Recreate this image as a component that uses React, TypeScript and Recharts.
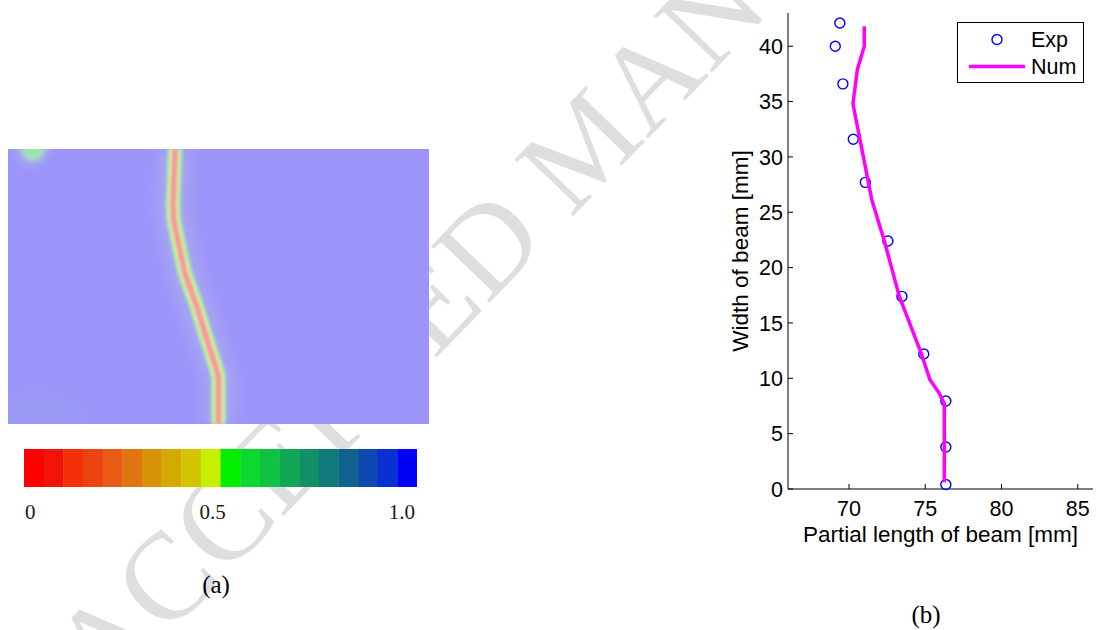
import React from 'react';
import {
  ScatterChart,
  Scatter,
  XAxis,
  YAxis,
  Legend,
  BarChart,
  Bar,
  Cell,
  ReferenceArea,
} from 'recharts';

// ---------- Panel (b): crack path, experiment vs. simulation [mm] ----------
const expLength = [76.35, 76.35, 76.35, 74.9, 73.47, 72.55, 71.07, 70.28, 69.6, 69.1, 69.4];
const expWidth = [0.4, 3.8, 7.95, 12.2, 17.4, 22.4, 27.7, 31.6, 36.6, 40.0, 42.1];
const numLength = [76.25, 76.25, 75.9, 75.3, 74.75, 73.3, 72.3, 71.5, 70.26, 70.55, 71.0, 71.0];
const numWidth = [0.6, 7.7, 8.7, 9.9, 12.2, 17.4, 22.5, 26.1, 34.8, 37.9, 40.0, 41.8];
const lengthTicks = [70, 75, 80, 85];
const widthTicks = [0, 5, 10, 15, 20, 25, 30, 35, 40];

// ---------- Panel (a): phase-field damage contour ----------
// crack trace, in percent of the plotted width / height
const crackX = [39.7, 39.4, 39.2, 39.4, 40.6, 42.0, 44.9, 47.3, 49.6, 50.0, 50.0];
const crackY = [100, 88.0, 80.0, 74.0, 65.0, 54.9, 42.5, 30.5, 19.6, 16.7, 0];
// small damaged spots near the supports
const spotX = [5.9, 6.5];
const spotY = [100, -8];
// colour scale: upper bound of each band and its colour
const bandTop = [
  0.05, 0.1, 0.15, 0.2, 0.25, 0.3, 0.35, 0.4, 0.45, 0.5,
  0.55, 0.6, 0.65, 0.7, 0.75, 0.8, 0.85, 0.9, 0.95, 1.0,
];
const bandColors = [
  '#ff0000', '#f21408', '#f4300a', '#ec4410', '#e85a16', '#e07410', '#d89208', '#d4aa02', '#d2c400', '#c6f000',
  '#00f000', '#0cd832', '#10c242', '#10a854', '#109064', '#107a7a', '#10628e', '#0c48ae', '#0830d2', '#0000fa',
];
// labelled band edges of the colour scale
const scaleLabels = ['0', '0.5', '1.0'];
const scaleLabelBands = [0.05, 0.5, 1.0];

const expData = expLength.map((x, i) => ({ x, y: expWidth[i] }));
const numData = numLength.map((x, i) => ({ x, y: numWidth[i] }));
const crackData = crackX.map((x, i) => ({ x, y: crackY[i] }));
const spotData = spotX.map((x, i) => ({ x, y: spotY[i], kind: i }));
const bandData = bandTop.map((band, i) => ({ band, color: bandColors[i] }));

const SANS = '"Liberation Sans", Arial, Helvetica, sans-serif';
const SERIF = '"Liberation Serif", "Times New Roman", Times, serif';

// layered strokes that give the crack its soft red/yellow/green band
const crackLayers = [
  { stroke: '#a9abf2', width: 34, filter: 'url(#crackHalo)', opacity: 0.7 },
  { stroke: '#a4eca8', width: 15, filter: 'url(#crackSoft)', opacity: 1 },
  { stroke: '#e4e89c', width: 9.5, filter: 'url(#crackSoft)', opacity: 1 },
  { stroke: '#f39c9c', width: 5.5, filter: 'url(#crackCore)', opacity: 1 },
];

const noMark = () => <g />;

const SpotShape = (p: any) => (
  <circle
    cx={p.cx}
    cy={p.cy}
    r={p.payload.kind === 0 ? 26 : 70}
    fill={p.payload.kind === 0 ? 'url(#spotGreen)' : 'url(#spotBlue)'}
  />
);

const ExpMarker = (p: any) => (
  <circle cx={p.cx} cy={p.cy} r={5} fill="none" stroke="#0000ff" strokeWidth={1.4} />
);

// colour-scale labels sit at band edges: first band's left edge, others' right edge
const ScaleTick = (p: any) => {
  const band = p.payload.value;
  const k = scaleLabelBands.indexOf(band);
  if (k < 0) return <g />;
  const half = 393 / bandTop.length / 2;
  const edge = k === 0 ? p.x - half : p.x + half;
  const anchor = k === 0 ? 'start' : k === 2 ? 'end' : 'middle';
  const dx = k === 0 ? 1 : k === 2 ? -2 : -8;
  return (
    <text
      x={edge + dx}
      y={p.y + 24}
      textAnchor={anchor}
      fontFamily={SERIF}
      fontSize={21}
      fill="#1a1a1a"
    >
      {scaleLabels[k]}
    </text>
  );
};

const renderLegend = (props: any) => {
  const items = props.payload || [];
  return (
    <svg width={127} height={61} style={{ display: 'block' }}>
      <rect x={0.5} y={0.5} width={126} height={60} fill="#fff" stroke="#000" strokeWidth={1} />
      {items.map((it: any, i: number) => {
        const cy = 17.5 + i * 27;
        return (
          <g key={it.value}>
            {it.type === 'line' ? (
              <line x1={12} x2={68} y1={cy} y2={cy} stroke={it.color} strokeWidth={3.5} />
            ) : (
              <circle cx={40} cy={cy} r={5} fill="none" stroke={it.color} strokeWidth={1.4} />
            )}
            <text x={74} y={cy + 7.8} fontSize={21.5} fontFamily={SANS} fill="#000">
              {it.value}
            </text>
          </g>
        );
      })}
    </svg>
  );
};

const tickStyle = { fontSize: 21.5, fill: '#000', fontFamily: SANS };

export default function App() {
  return (
    <div
      style={{
        position: 'absolute',
        left: 0,
        top: 0,
        width: 1096,
        height: 630,
        background: '#fff',
        fontFamily: SANS,
        overflow: 'hidden',
      }}
    >
      {/* shared filters and gradients, plus watermark and captions */}
      <svg width={1096} height={630} style={{ position: 'absolute', left: 0, top: 0 }}>
        <defs>
          <filter id="crackHalo" filterUnits="userSpaceOnUse" x={-200} y={-200} width={900} height={700}>
            <feGaussianBlur stdDeviation={7} />
          </filter>
          <filter id="crackSoft" filterUnits="userSpaceOnUse" x={-200} y={-200} width={900} height={700}>
            <feGaussianBlur stdDeviation={1.6} />
          </filter>
          <filter id="crackCore" filterUnits="userSpaceOnUse" x={-200} y={-200} width={900} height={700}>
            <feGaussianBlur stdDeviation={0.8} />
          </filter>
          <radialGradient id="spotGreen">
            <stop offset="0%" stopColor="#8ef08e" stopOpacity={1} />
            <stop offset="35%" stopColor="#a6e6b8" stopOpacity={0.85} />
            <stop offset="60%" stopColor="#a4aef0" stopOpacity={0.6} />
            <stop offset="100%" stopColor="#9c94f9" stopOpacity={0} />
          </radialGradient>
          <radialGradient id="spotBlue">
            <stop offset="0%" stopColor="#98a4ec" stopOpacity={0.35} />
            <stop offset="80%" stopColor="#98a4ec" stopOpacity={0.25} />
            <stop offset="100%" stopColor="#9c94f9" stopOpacity={0} />
          </radialGradient>
        </defs>
        <text
          x={104}
          y={702}
          transform="rotate(-46 104 702)"
          fontFamily={SERIF}
          fontSize={124}
          fill="#dedede"
        >
          ACCEPTED MANUSCRIPT
        </text>
        <text x={216} y={593} textAnchor="middle" fontFamily={SERIF} fontSize={25} fill="#000">
          (a)
        </text>
        <text x={926} y={623} textAnchor="middle" fontFamily={SERIF} fontSize={25} fill="#000">
          (b)
        </text>
      </svg>

      {/* Panel (a): damage field with crack */}
      <ScatterChart
        width={421}
        height={275}
        margin={{ top: 0, right: 0, bottom: 0, left: 0 }}
        style={{ position: 'absolute', left: 8, top: 149 }}
      >
        <XAxis type="number" dataKey="x" domain={[0, 100]} hide allowDataOverflow />
        <YAxis type="number" dataKey="y" domain={[0, 100]} hide allowDataOverflow />
        <ReferenceArea x1={0} x2={100} y1={0} y2={100} fill="#9c94f9" fillOpacity={1} stroke="none" />
        <Scatter data={spotData} shape={SpotShape} isAnimationActive={false} />
        {crackLayers.map((l, i) => (
          <Scatter
            key={i}
            data={crackData}
            shape={noMark}
            line={{
              stroke: l.stroke,
              strokeWidth: l.width,
              strokeOpacity: l.opacity,
              strokeLinejoin: 'round',
              filter: l.filter,
            }}
            lineType="joint"
            isAnimationActive={false}
          />
        ))}
      </ScatterChart>

      {/* Panel (a): colour scale */}
      <BarChart
        width={393}
        height={80}
        data={bandData}
        margin={{ top: 0, right: 0, bottom: 0, left: 0 }}
        barCategoryGap={0}
        style={{ position: 'absolute', left: 24, top: 449 }}
      >
        <XAxis
          dataKey="band"
          interval={0}
          axisLine={false}
          tickLine={false}
          height={42}
          tick={<ScaleTick />}
        />
        <YAxis hide domain={[0, 1]} />
        <Bar dataKey={() => 1} isAnimationActive={false}>
          {bandData.map((d) => (
            <Cell key={d.band} fill={d.color} />
          ))}
        </Bar>
      </BarChart>

      {/* Panel (b): crack path comparison */}
      <ScatterChart
        width={396}
        height={560}
        margin={{ top: 13, right: 3, bottom: 21, left: 28 }}
        style={{ position: 'absolute', left: 700, top: 0 }}
      >
        <XAxis
          xAxisId="b"
          type="number"
          dataKey="x"
          domain={[66, 86]}
          ticks={lengthTicks}
          tickSize={-5}
          tickMargin={17}
          height={50}
          stroke="#000"
          tick={tickStyle}
          label={(p: any) => (
            <text
              x={p.viewBox.x + p.viewBox.width / 2}
              y={p.viewBox.y + 53}
              textAnchor="middle"
              fontSize={22.5}
              fontFamily={SANS}
              fill="#000"
            >
              Partial length of beam [mm]
            </text>
          )}
        />
        <XAxis
          xAxisId="t"
          orientation="top"
          type="number"
          domain={[66, 86]}
          ticks={lengthTicks}
          allowDataOverflow
          tickSize={-5}
          height={0}
          stroke="#000"
          tickFormatter={() => ''}
        />
        <YAxis
          yAxisId="l"
          type="number"
          dataKey="y"
          domain={[0, 43]}
          ticks={widthTicks}
          tickSize={-5}
          tickMargin={10}
          width={60}
          stroke="#000"
          tick={tickStyle}
          label={(p: any) => {
            const cx = p.viewBox.x + 20;
            const cy = p.viewBox.y + p.viewBox.height / 2;
            return (
              <text
                x={cx}
                y={cy}
                transform={`rotate(-90 ${cx} ${cy})`}
                textAnchor="middle"
                fontSize={22.5}
                fontFamily={SANS}
                fill="#000"
              >
                Width of beam [mm]
              </text>
            );
          }}
        />
        <YAxis
          yAxisId="r"
          orientation="right"
          type="number"
          domain={[0, 43]}
          ticks={widthTicks}
          allowDataOverflow
          tickSize={-5}
          width={0}
          stroke="#000"
          tickFormatter={() => ''}
        />
        <Legend
          layout="vertical"
          align="center"
          verticalAlign="middle"
          wrapperStyle={{ left: 257, top: 22, width: 127, height: 61 }}
          content={renderLegend}
        />
        <Scatter
          name="Exp"
          data={expData}
          xAxisId="b"
          yAxisId="l"
          fill="#0000ff"
          legendType="circle"
          shape={ExpMarker}
          isAnimationActive={false}
        />
        <Scatter
          name="Num"
          data={numData}
          xAxisId="b"
          yAxisId="l"
          fill="#ff00ff"
          legendType="line"
          shape={noMark}
          line={{ stroke: '#ff00ff', strokeWidth: 3.5, strokeLinejoin: 'round' }}
          isAnimationActive={false}
        />
      </ScatterChart>
    </div>
  );
}
